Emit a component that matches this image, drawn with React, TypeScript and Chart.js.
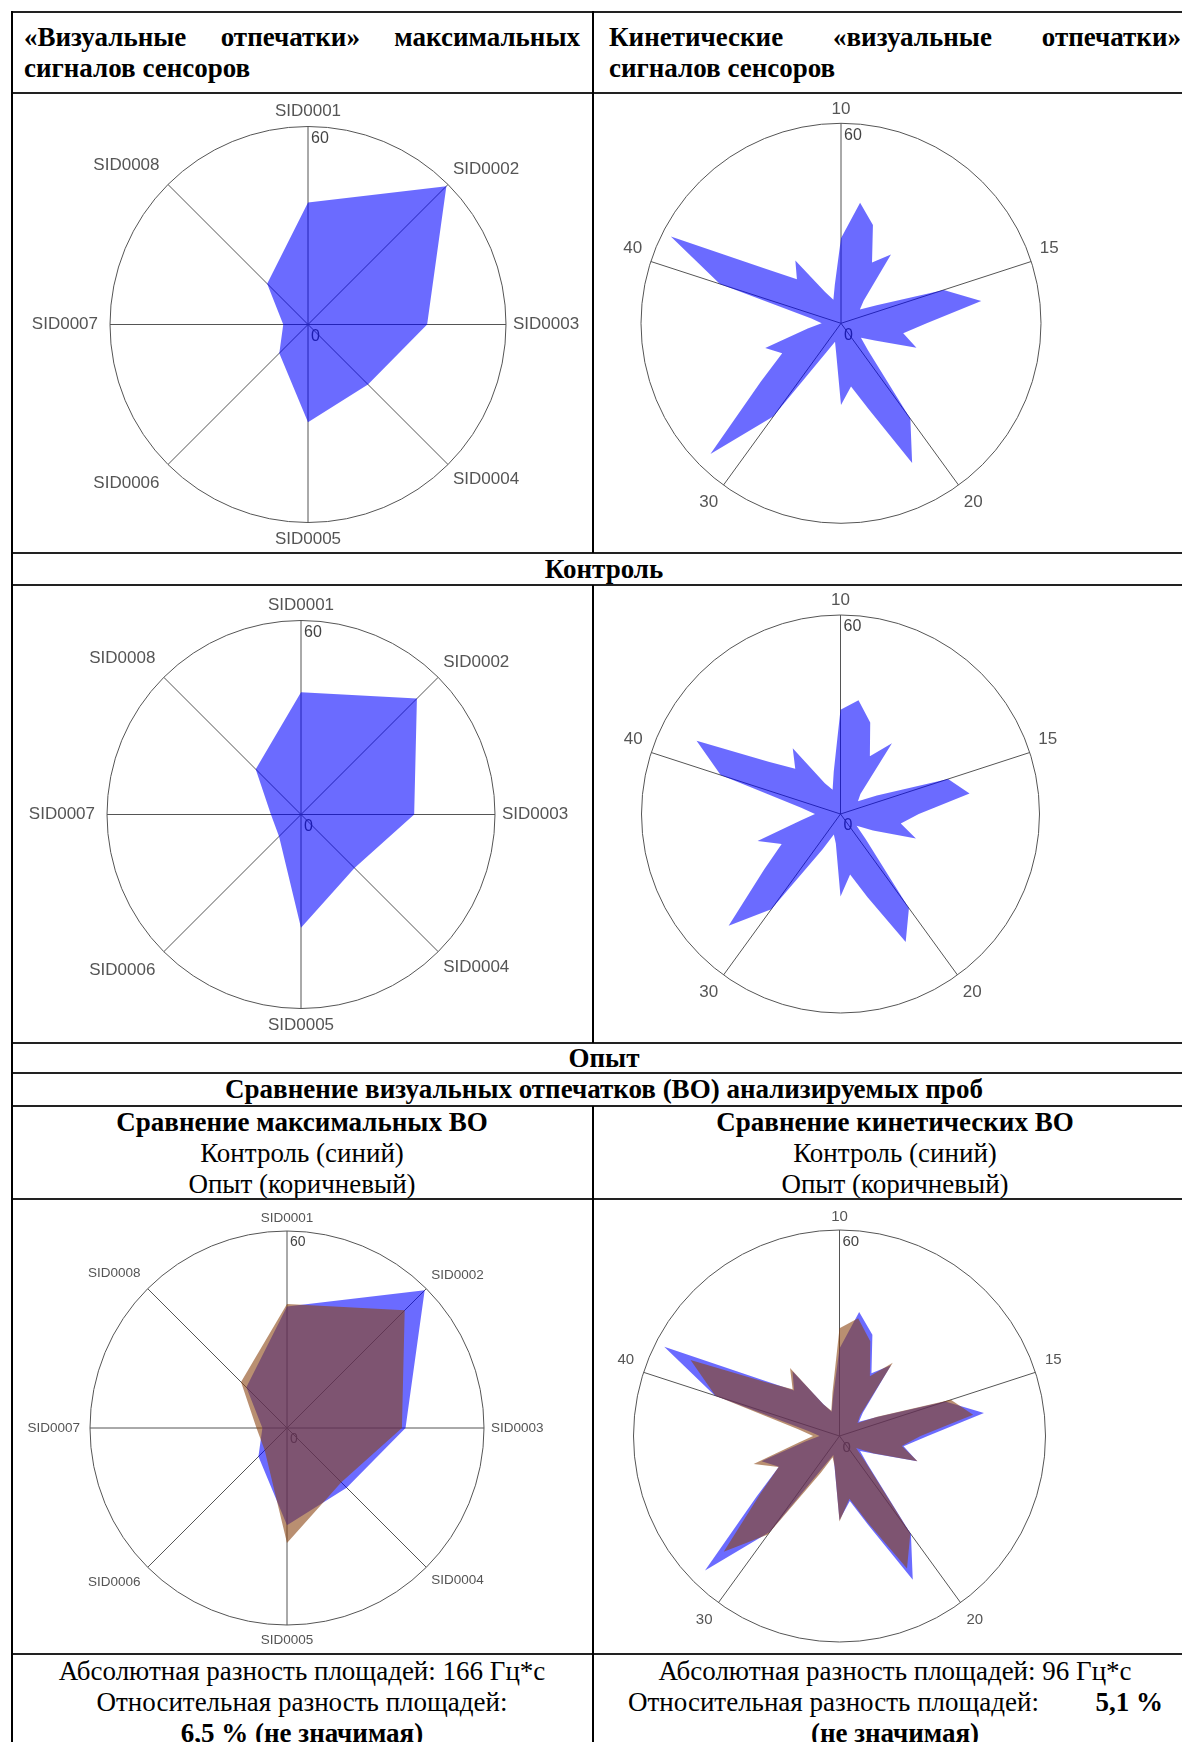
import React, { useEffect, useRef } from 'react';
import { Chart, registerables } from 'chart.js';

Chart.register(...registerables);

// ---------------- data ----------------
const sensorLabels = ['SID0001', 'SID0002', 'SID0003', 'SID0004', 'SID0005', 'SID0006', 'SID0007', 'SID0008'];
const maxControl = [37.0, 59.3, 36.1, 25.7, 29.6, 12.3, 7.5, 17.5];
const maxExperiment = [37.8, 50.7, 35.0, 23.4, 35.0, 9.6, 9.3, 19.8];

const kineticTimes = ['10', '15', '20', '30', '40'];
const kineticControl = [
  25.5, 36.6, 31.0, 20.5, 25.5, 9.6, 7.0, 12.0,
  32.4, 42.6, 25.7, 18.9, 23.8, 11.4, 7.4, 11.5,
  35.4, 47.0, 27.3, 19.2, 24.5, 9.2, 5.8, 9.8,
  34.6, 55.4, 29.7, 19.8, 23.9, 10.1, 5.8, 9.0,
  38.2, 57.3, 27.7, 18.7, 23.3, 10.5, 7.4, 11.8,
];
const kineticExperiment = [
  31.4, 34.7, 29.0, 19.5, 26.4, 8.5, 6.5, 12.3,
  34.1, 39.4, 23.6, 18.4, 23.9, 11.0, 6.0, 10.7,
  35.1, 43.3, 26.4, 18.5, 24.9, 9.0, 6.5, 12.0,
  35.5, 47.7, 28.4, 19.9, 26.3, 12.0, 7.7, 12.0,
  38.0, 48.7, 26.8, 19.3, 24.5, 10.4, 7.7, 13.0,
];
const radialTicks = [0, 60];

const SENSORS_PER_TIME = sensorLabels.length;
const kineticLabels = kineticTimes.flatMap((t) => [t, ...Array(SENSORS_PER_TIME - 1).fill('')]);

// ---------------- styles ----------------
const BLUE = 'rgba(0, 0, 255, 0.58)';
const BROWN = 'rgba(139, 69, 19, 0.6)';
const GRID = '#555555';
const LABEL = '#555555';
const SANS = '"Liberation Sans", Arial, sans-serif';
const SERIF = '"Liberation Serif", "Times New Roman", serif';
const FS = 27;

const tickLabelPlugin = {
  id: 'tickLabelPlugin',
  beforeDatasetsDraw(chart: any, _args: any, opts: any) {
    const s = chart.scales.r;
    const ctx = chart.ctx;
    ctx.save();
    ctx.font = `${opts.size}px ${SANS}`;
    ctx.fillStyle = '#444';
    ctx.textAlign = 'left';
    ctx.textBaseline = 'top';
    s.ticks.forEach((t: any) => {
      const d = s.getDistanceFromCenterForValue(t.value);
      ctx.fillText(String(t.value), s.xCenter + 3, s.yCenter - d + 4);
    });
    ctx.restore();
  },
};

type Geo = { cx: number; cy: number; R: number; font: number; tickFont: number; pad: (i: number) => number };

function makeConfig(labels: string[], datasets: any[], geo: Geo, everyNth: number) {
  return {
    type: 'radar',
    data: {
      labels,
      datasets: datasets.map((d) => ({
        data: d.data,
        backgroundColor: d.color,
        borderColor: 'transparent',
        borderWidth: 0,
        pointRadius: 0,
        pointHoverRadius: 0,
        fill: true,
        tension: 0,
      })),
    },
    options: {
      animation: false,
      responsive: false,
      events: [],
      layout: { padding: 0 },
      plugins: {
        legend: { display: false },
        tooltip: { enabled: false },
        tickLabelPlugin: { size: geo.tickFont },
      },
      scales: {
        r: {
          min: radialTicks[0],
          max: radialTicks[radialTicks.length - 1],
          ticks: { display: false, stepSize: radialTicks[1] - radialTicks[0] },
          grid: { circular: true, color: GRID, lineWidth: 1 },
          angleLines: {
            color: GRID,
            lineWidth: (ctx: any) => (ctx.index % everyNth === 0 ? 1 : 0),
          },
          pointLabels: {
            color: LABEL,
            padding: (ctx: any) => geo.pad(ctx.index),
            font: { family: SANS, size: geo.font },
            callback: (v: any) => (v === '' ? [] : v),
          },
          afterSetDimensions: (s: any) => {
            s.xCenter = s.left + geo.cx;
            s.yCenter = s.top + geo.cy;
            s.drawingArea = geo.R;
          },
        },
      },
    },
    plugins: [tickLabelPlugin],
  };
}

function RadarCanvas(props: { x: number; y: number; w: number; h: number; config: () => any }) {
  const ref = useRef<HTMLCanvasElement>(null);
  useEffect(() => {
    const chart = new Chart(ref.current as HTMLCanvasElement, props.config() as any);
    return () => chart.destroy();
  }, []);
  return (
    <canvas
      ref={ref}
      width={props.w}
      height={props.h}
      style={{ position: 'absolute', left: props.x - 8, top: props.y - 8, width: props.w, height: props.h }}
    />
  );
}

// ---------------- layout helpers (page coordinates) ----------------
const BORDER = '#222';

function HLine({ y }: { y: number }) {
  return <div style={{ position: 'absolute', left: 11 - 8, top: y - 8, width: 1200, height: 2, background: BORDER }} />;
}
function VLine({ x, y1, y2 }: { x: number; y1: number; y2: number }) {
  return <div style={{ position: 'absolute', left: x - 8, top: y1 - 8, width: 1.5, height: y2 - y1, background: '#000' }} />;
}

function TextLine(props: {
  x: number; y: number; w: number; children: any; bold?: boolean; align?: 'center' | 'left' | 'justify'; style?: any;
}) {
  const align = props.align || 'center';
  return (
    <div
      style={{
        position: 'absolute',
        left: props.x - 8,
        top: props.y - 8,
        width: props.w,
        height: 31,
        lineHeight: '31px',
        fontFamily: SERIF,
        fontSize: FS,
        fontWeight: props.bold ? 700 : 400,
        color: '#000',
        whiteSpace: 'nowrap',
        textAlign: align === 'justify' ? 'justify' : align,
        textAlignLast: align === 'justify' ? 'justify' : undefined,
        ...(props.style || {}),
      } as any}
    >
      {props.children}
    </div>
  );
}

const maxPad = (i: number) => (i === 0 ? 5 : i >= 5 ? 12 : 7);
const maxPadSmall = (i: number) => (i === 0 ? 5 : i >= 5 ? 10 : 7);
const kinPad = (i: number) => (i === 0 ? 4 : 9);
const kinPadBig = (i: number) => (i === 0 ? 4 : 10);

export default function App() {
  const L0 = 11, MID = 593, R1 = 1197;
  const leftW = MID - L0, rightW = R1 - MID;
  return (
    <div style={{ position: 'relative', width: 1182, height: 1734, overflow: 'hidden', background: '#fff' }}>
      {/* header row */}
      <TextLine x={24} y={22} w={556} bold align="justify" style={{ whiteSpace: 'normal' }}>«Визуальные отпечатки» максимальных</TextLine>
      <TextLine x={24} y={53} w={556} bold align="left">сигналов сенсоров</TextLine>
      <TextLine x={609} y={22} w={572} bold align="justify" style={{ whiteSpace: 'normal' }}>Кинетические «визуальные отпечатки»</TextLine>
      <TextLine x={609} y={53} w={572} bold align="left">сигналов сенсоров</TextLine>

      {/* row 1 charts */}
      <RadarCanvas x={12} y={95} w={580} h={457}
        config={() => makeConfig(sensorLabels, [{ data: maxControl, color: BLUE }], { cx: 296, cy: 229.5, R: 198, font: 17, tickFont: 16, pad: maxPad }, 1)} />
      <RadarCanvas x={595} y={95} w={600} h={457}
        config={() => makeConfig(kineticLabels, [{ data: kineticControl, color: BLUE }], { cx: 246, cy: 228.3, R: 200, font: 17, tickFont: 16, pad: kinPad }, SENSORS_PER_TIME)} />

      <TextLine x={L0} y={554} w={R1 - L0} bold>Контроль</TextLine>

      {/* row 2 charts */}
      <RadarCanvas x={12} y={587} w={580} h={455}
        config={() => makeConfig(sensorLabels, [{ data: maxExperiment, color: BLUE }], { cx: 289, cy: 227.5, R: 194, font: 17, tickFont: 16, pad: maxPad }, 1)} />
      <RadarCanvas x={595} y={587} w={600} h={455}
        config={() => makeConfig(kineticLabels, [{ data: kineticExperiment, color: BLUE }], { cx: 245.5, cy: 227, R: 199, font: 17, tickFont: 16, pad: kinPad }, SENSORS_PER_TIME)} />

      <TextLine x={L0} y={1043} w={R1 - L0} bold>Опыт</TextLine>
      <TextLine x={L0} y={1074} w={R1 - L0} bold>Сравнение визуальных отпечатков (ВО) анализируемых проб</TextLine>

      <TextLine x={L0} y={1107} w={leftW} bold>Сравнение максимальных ВО</TextLine>
      <TextLine x={L0} y={1138} w={leftW}>Контроль (синий)</TextLine>
      <TextLine x={L0} y={1169} w={leftW}>Опыт (коричневый)</TextLine>
      <TextLine x={MID} y={1107} w={rightW} bold>Сравнение кинетических ВО</TextLine>
      <TextLine x={MID} y={1138} w={rightW}>Контроль (синий)</TextLine>
      <TextLine x={MID} y={1169} w={rightW}>Опыт (коричневый)</TextLine>

      {/* row 3 charts */}
      <RadarCanvas x={12} y={1201} w={580} h={453}
        config={() => makeConfig(sensorLabels, [{ data: maxExperiment, color: BROWN }, { data: maxControl, color: BLUE }], { cx: 275, cy: 227, R: 197, font: 13.5, tickFont: 14, pad: maxPadSmall }, 1)} />
      <RadarCanvas x={595} y={1201} w={600} h={453}
        config={() => makeConfig(kineticLabels, [{ data: kineticExperiment, color: BROWN }, { data: kineticControl, color: BLUE }], { cx: 244.5, cy: 237, R: 210, font: 15, tickFont: 15, pad: kinPadBig }, SENSORS_PER_TIME)} />

      {/* bottom row */}
      <TextLine x={L0} y={1656} w={leftW}>Абсолютная разность площадей: 166 Гц*с</TextLine>
      <TextLine x={L0} y={1687} w={leftW}>Относительная разность площадей:</TextLine>
      <TextLine x={L0} y={1718} w={leftW} bold>6,5 % (не значимая)</TextLine>
      <TextLine x={MID} y={1656} w={rightW}>Абсолютная разность площадей: 96 Гц*с</TextLine>
      <div style={{ position: 'absolute', left: 628 - 8, top: 1687 - 8, width: 535, height: 31, display: 'flex', justifyContent: 'space-between', lineHeight: '31px', fontFamily: SERIF, fontSize: FS, whiteSpace: 'nowrap' }}>
        <span>Относительная разность площадей:</span>
        <span style={{ fontWeight: 700 }}>5,1 %</span>
      </div>
      <TextLine x={MID} y={1718} w={rightW} bold>(не значимая)</TextLine>

      {/* borders */}
      {[11, 92, 552, 584, 1042, 1072, 1105, 1198, 1653].map((y) => <HLine key={y} y={y} />)}
      <VLine x={11} y1={11} y2={1750} />
      <VLine x={592} y1={11} y2={553} />
      <VLine x={592} y1={585} y2={1043} />
      <VLine x={592} y1={1106} y2={1750} />
    </div>
  );
}
